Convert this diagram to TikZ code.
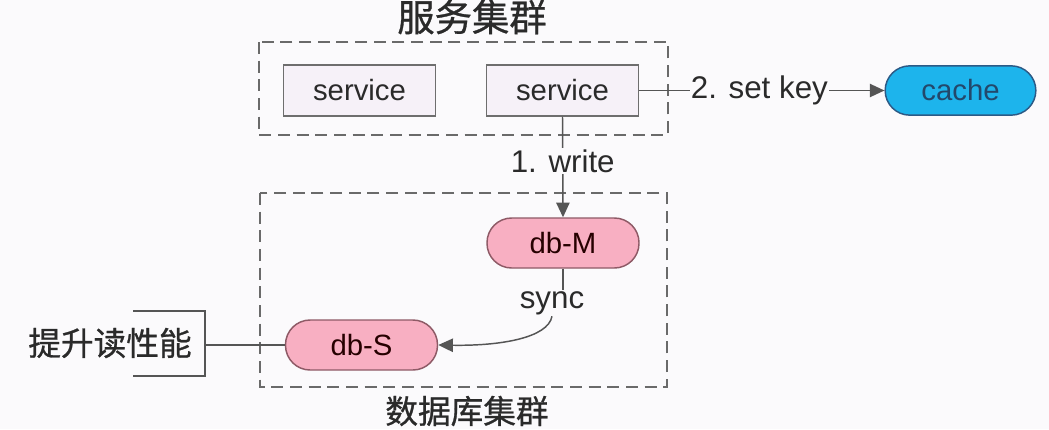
\documentclass[tikz,border=0pt]{standalone}
\usepackage{fontspec}
\setmainfont{Liberation Sans}
\newfontfamily\cjk[FakeBold=0.8]{Noto Sans CJK SC}
\usetikzlibrary{arrows.meta}
\definecolor{bgc}{HTML}{FBFAFC}
\definecolor{linec}{HTML}{555555}
\definecolor{dashc}{HTML}{6A6A6A}
\definecolor{svcfill}{HTML}{F6F1F8}
\definecolor{svcdraw}{HTML}{6E6E6E}
\definecolor{pinkfill}{HTML}{F8AFC2}
\definecolor{pinkdraw}{HTML}{8E5A66}
\definecolor{cachefill}{HTML}{1DB4EC}
\definecolor{cachedraw}{HTML}{2C5A86}
\definecolor{txt}{HTML}{2A2A2A}
\tikzset{
  svc/.style={draw=svcdraw, fill=svcfill, line width=1.2pt, minimum width=114pt, minimum height=38pt, inner sep=0pt, font=\fontsize{22}{25}\selectfont, text=txt},
  db/.style={draw=pinkdraw, fill=pinkfill, line width=1.1pt, rounded corners=18.5pt, minimum width=114pt, minimum height=37.5pt, inner sep=0pt, font=\fontsize{22}{25}\selectfont, text=black!75!red!60!black},
  cachebox/.style={draw=cachedraw, fill=cachefill, line width=1.1pt, rounded corners=18.5pt, minimum width=113pt, minimum height=37pt, inner sep=0pt, font=\fontsize{22}{25}\selectfont, text=cachedraw!80!black},
  cluster/.style={draw=dashc, line width=1.3pt, dash pattern=on 9pt off 5pt},
  conn/.style={draw=linec, line width=1.1pt},
  arr/.style={conn, -{Triangle[length=11pt,width=10pt]}},
  lbl/.style={font=\fontsize{23.5}{26}\selectfont, text=txt, fill=bgc, inner sep=1pt},
  cn/.style={font=\cjk\fontsize{24.5}{28}\selectfont, text=txt, inner sep=0pt}
}
\begin{document}
\begin{tikzpicture}[x=0.75pt,y=-0.75pt]
\fill[bgc] (0,0) rectangle (1049,429);
\useasboundingbox (0,0) rectangle (1049,429);
% clusters
\draw[cluster] (259,42) rectangle (668,135);
\draw[cluster] (260,193) rectangle (667,387);
\node[cn, font=\cjk\fontsize{28}{32}\selectfont] (t1) at (472,17) {服务集群};
\node[cn] (t2) at (467,411) {数据库集群};
% nodes
\node[svc] (s1) at (359.5,90.5) {service};
\node[svc] (s2) at (562.5,90.5) {service};
\node[cachebox] (cache) at (960.5,90.5) {cache};
\node[db] (dbM) at (563,243) {db-M};
\node[db] (dbS) at (361.5,345) {db-S};
% connectors
\draw[arr] (s2.east) -- node[lbl, pos=0.49] (setkey) {2. set key} (cache.west);
\draw[arr] (s2.south) -- node[lbl, pos=0.44] (write) {1. write} (dbM.north);
\node[lbl, fill=none] (sync) at (552,303) {sync};
\draw[conn] (dbM.south) -- (sync.north -| dbM.south);
\draw[arr] (sync.south) .. controls (548,338) and (500,346) .. (dbS.east);
% bracket
\node[cn] (perf) at (110,343) {提升读性能};
\coordinate (bt) at (205,311);
\coordinate (bb) at (205,376);
\coordinate (bm) at (205,345);
\draw[conn] (133,311) -- (bt) -- (bb) -- (133,376);
\draw[conn] (bm) -- (dbS.west);
\end{tikzpicture}
\end{document}
